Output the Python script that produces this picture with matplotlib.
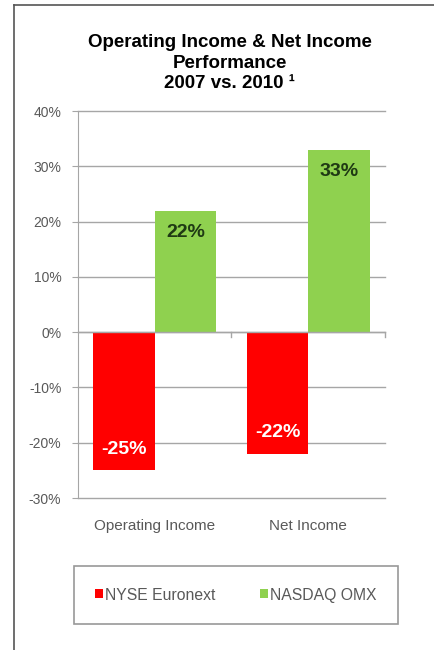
import matplotlib.pyplot as plt
import numpy as np
from matplotlib.lines import Line2D
from matplotlib.patches import Patch

plt.rcParams['font.family'] = ['Liberation Sans', 'DejaVu Sans']

categories = ['Operating Income', 'Net Income']
nyse = [-25, -22]
nasdaq = [22, 33]
series_names = ['NYSE Euronext', 'NASDAQ OMX']
yticks = [-30, -20, -10, 0, 10, 20, 30, 40]

red = '#ff0000'
green = '#8fd14f'
grid_c = '#a6a6a6'
text_c = '#595959'

fig = plt.figure(figsize=(4.35, 6.5), dpi=100)
ax = fig.add_axes([0.1793, 0.2338, 0.7057, 0.5954])

x = np.arange(len(categories))
w = 0.4
b1 = ax.bar(x - w / 2, nyse, w, color=red, zorder=3)
b2 = ax.bar(x + w / 2, nasdaq, w, color=green, zorder=3)

ax.set_xlim(-0.5, 1.5)
ax.set_ylim(-30, 40)
ax.set_yticks(yticks)
ax.set_yticklabels([f'{v}%' for v in yticks], fontsize=10, color=text_c)
for v in yticks:
    ax.axhline(v, color=grid_c, linewidth=1.0, zorder=0, clip_on=False)
ax.set_xticks([])
for s in ['top', 'right', 'bottom']:
    ax.spines[s].set_visible(False)
ax.spines['left'].set_color(grid_c)
ax.tick_params(axis='y', length=4, color=grid_c, pad=8)
ax.axhline(0, color=grid_c, linewidth=1.0, zorder=4)
# small ticks at category boundaries on zero line
for bx in [0.5, 1.5]:
    ax.plot([bx, bx], [0, -0.8], color=grid_c, linewidth=1.0, zorder=4, clip_on=False)

for i, c in enumerate(categories):
    ax.text(x[i], -35, c, ha='center', va='center', fontsize=11, color=text_c)

for rect, v in zip(b1, nyse):
    ax.annotate(f'{v}%', (rect.get_x() + rect.get_width() / 2, v),
                xytext=(0, 15), textcoords='offset points', ha='center', va='center',
                fontsize=14, fontweight='bold', color='white', zorder=5)
for rect, v in zip(b2, nasdaq):
    ax.annotate(f'{v}%', (rect.get_x() + rect.get_width() / 2, v),
                xytext=(0, -15.5), textcoords='offset points', ha='center', va='center',
                fontsize=14, fontweight='bold', color='#1f3a14', zorder=5)

fig.text(0.528, 0.903, 'Operating Income & Net Income\nPerformance\n2007 vs. 2010 \u00b9',
         ha='center', va='center', fontsize=13.5, fontweight='bold', linespacing=1.28)

# legend box
handles = [Patch(facecolor=red), Patch(facecolor=green)]
leg = fig.legend(handles, series_names, loc='center', bbox_to_anchor=(0.542, 0.0846),
                 ncol=2, frameon=True, fontsize=11.3, handlelength=0.5, handleheight=0.5,
                 handletextpad=0.15, columnspacing=2.8, borderpad=1.35, borderaxespad=0,
                 fancybox=False)
leg.get_frame().set_edgecolor('#7f7f7f')
leg.get_frame().set_linewidth(1.2)
for t in leg.get_texts():
    t.set_color(text_c)

# outer frame (left and top edges)
fig.add_artist(Line2D([14 / 435, 14 / 435], [0, 1 - 5 / 650], color='#555555', linewidth=1.2))
fig.add_artist(Line2D([14 / 435, 1], [1 - 5 / 650, 1 - 5 / 650], color='#555555', linewidth=1.2))

fig.savefig('out.png', dpi=100)
